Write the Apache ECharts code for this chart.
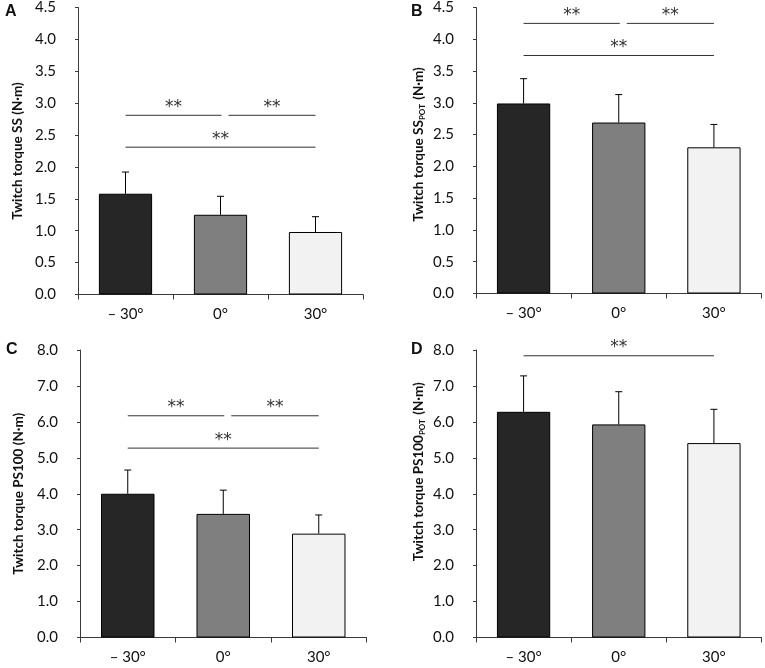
<!DOCTYPE html>
<html>
<head>
<meta charset="utf-8">
<script src="https://cdn.jsdelivr.net/npm/echarts@6/dist/echarts.min.js"></script>
<style>
html,body{margin:0;padding:0;background:#fff;}
#chart{width:765px;height:668px;}
</style>
</head>
<body>
<div id="chart"></div>
<script>
// ---- data ----
const categories = ['– 30°', '0°', '30°'];
const meanA = [1.58, 1.25, 0.98];
const sdA   = [0.34, 0.29, 0.24];
const meanB = [2.99, 2.69, 2.30];
const sdB   = [0.39, 0.44, 0.36];
const meanC = [4.00, 3.44, 2.89];
const sdC   = [0.66, 0.66, 0.52];
const meanD = [6.28, 5.93, 5.41];
const sdD   = [1.00, 0.91, 0.94];
// significance brackets: [fromCategoryIndex, toCategoryIndex, level]
const sigA = [[0, 1, 2.81], [1, 2, 2.81], [0, 2, 2.31]];
const sigB = [[0, 1, 4.25], [1, 2, 4.25], [0, 2, 3.745]];
const sigC = [[0, 1, 6.17], [1, 2, 6.17], [0, 2, 5.27]];
const sigD = [[0, 2, 7.84]];
const yTitles = [
  'Twitch torque SS (N·m)',
  'Twitch torque SS{sub|POT} (N·m)',
  'Twitch torque PS100 (N·m)',
  'Twitch torque PS100{sub|POT} (N·m)'
];
const panelLetters = ['A', 'B', 'C', 'D'];
const yMax = [4.5, 4.5, 8, 8];
const yInterval = [0.5, 0.5, 1, 1];

// ---- styles ----
const barColors = ['#262626', '#7f7f7f', '#f2f2f2'];
const axisColor = '#3a3a3a';
const textColor = '#111';
const grids = [
  {left: 78, right: 402, top: 7.5, bottom: 373.5},
  {left: 476, right: 3.5, top: 7.5, bottom: 374.5},
  {left: 80, right: 398.5, top: 350, bottom: 30.5},
  {left: 476, right: 3.5, top: 350, bottom: 30.5}
];
const nameGaps = [53, 50, 54, 50];
const namePadLeft = [0, 12, 0, 44];
const letterPos = [[5, 12], [411, 12], [6, 350], [411, 350]];

const means = [meanA, meanB, meanC, meanD];
const sds = [sdA, sdB, sdC, sdD];
const sigs = [sigA, sigB, sigC, sigD];

function renderErr(params, api) {
  const i = api.value(0), m = api.value(1), s = api.value(2);
  const p0 = api.coord([i, m]), p1 = api.coord([i, m + s]);
  return {type: 'group', children: [
    {type: 'line', shape: {x1: p0[0], y1: p0[1], x2: p1[0], y2: p1[1]}, style: {stroke: '#000', lineWidth: 1}},
    {type: 'line', shape: {x1: p1[0] - 3.5, y1: p1[1], x2: p1[0] + 3.5, y2: p1[1]}, style: {stroke: '#000', lineWidth: 1}}
  ]};
}
function renderSig(params, api) {
  const a = api.value(0), b = api.value(1), y = api.value(2);
  const pa = api.coord([a, y]), pb = api.coord([b, y]);
  const x1 = pa[0] + (a > 0 ? 8 : 0);
  const x2 = pb[0] + ((b === 1 && a === 0) ? 1 : 0);
  return {type: 'group', children: [
    {type: 'line', shape: {x1: x1, y1: pa[1], x2: x2, y2: pa[1]}, style: {stroke: '#333', lineWidth: 1}},
    {type: 'text', style: {text: '**', x: (x1 + x2) / 2, y: pa[1] - 8, align: 'center', verticalAlign: 'middle',
      fontSize: 17, fontFamily: 'DejaVu Sans', fill: '#333'}}
  ]};
}

const option = {
  animation: false,
  backgroundColor: '#fff',
  grid: grids,
  xAxis: grids.map((g, k) => ({
    type: 'category', gridIndex: k, data: categories,
    axisLine: {lineStyle: {color: axisColor, width: 1}},
    axisTick: {show: true, length: 5, lineStyle: {color: axisColor}},
    axisLabel: {color: textColor, fontSize: 15, fontFamily: 'Lato', margin: 12}
  })),
  yAxis: grids.map((g, k) => ({
    type: 'value', gridIndex: k, min: 0, max: yMax[k], interval: yInterval[k],
    axisLine: {show: true, lineStyle: {color: axisColor, width: 1}},
    axisTick: {show: true, length: 3, lineStyle: {color: axisColor}},
    splitLine: {show: false},
    axisLabel: {color: textColor, fontSize: 15, fontFamily: 'Lato', margin: 22,
      formatter: v => v.toFixed(1)},
    name: yTitles[k], nameLocation: 'middle', nameGap: nameGaps[k], nameRotate: 90,
    nameTextStyle: {color: textColor, fontSize: 13.5, fontWeight: 'bold', fontFamily: 'Lato',
      padding: [0, 0, 0, namePadLeft[k]],
      rich: {sub: {fontSize: 8, fontWeight: 'bold', fontFamily: 'Lato', color: textColor, verticalAlign: 'bottom', padding: [5, 1, 0, 0]}}}
  })),
  graphic: panelLetters.map((t, k) => ({
    type: 'text', x: letterPos[k][0], y: letterPos[k][1],
    style: {text: t, fontSize: 16, fontWeight: 'bold', fontFamily: 'Liberation Sans', fill: '#111', verticalAlign: 'middle'}
  })),
  series: []
};

for (let k = 0; k < 4; k++) {
  option.series.push({
    type: 'bar', xAxisIndex: k, yAxisIndex: k, barWidth: '56%',
    data: means[k].map((v, i) => ({value: v, itemStyle: {color: barColors[i], borderColor: '#000', borderWidth: 1}})),
    z: 2
  });
  option.series.push({
    type: 'custom', xAxisIndex: k, yAxisIndex: k, renderItem: renderErr, clip: false,
    encode: {x: 0, y: 1},
    data: means[k].map((v, i) => [i, v, sds[k][i]]), z: 3
  });
  option.series.push({
    type: 'custom', xAxisIndex: k, yAxisIndex: k, renderItem: renderSig, clip: false,
    encode: {x: [0, 1], y: 2},
    data: sigs[k], z: 4
  });
}

const chart = echarts.init(document.getElementById('chart'), null, {renderer: 'canvas'});
chart.setOption(option);
</script>
</body>
</html>
